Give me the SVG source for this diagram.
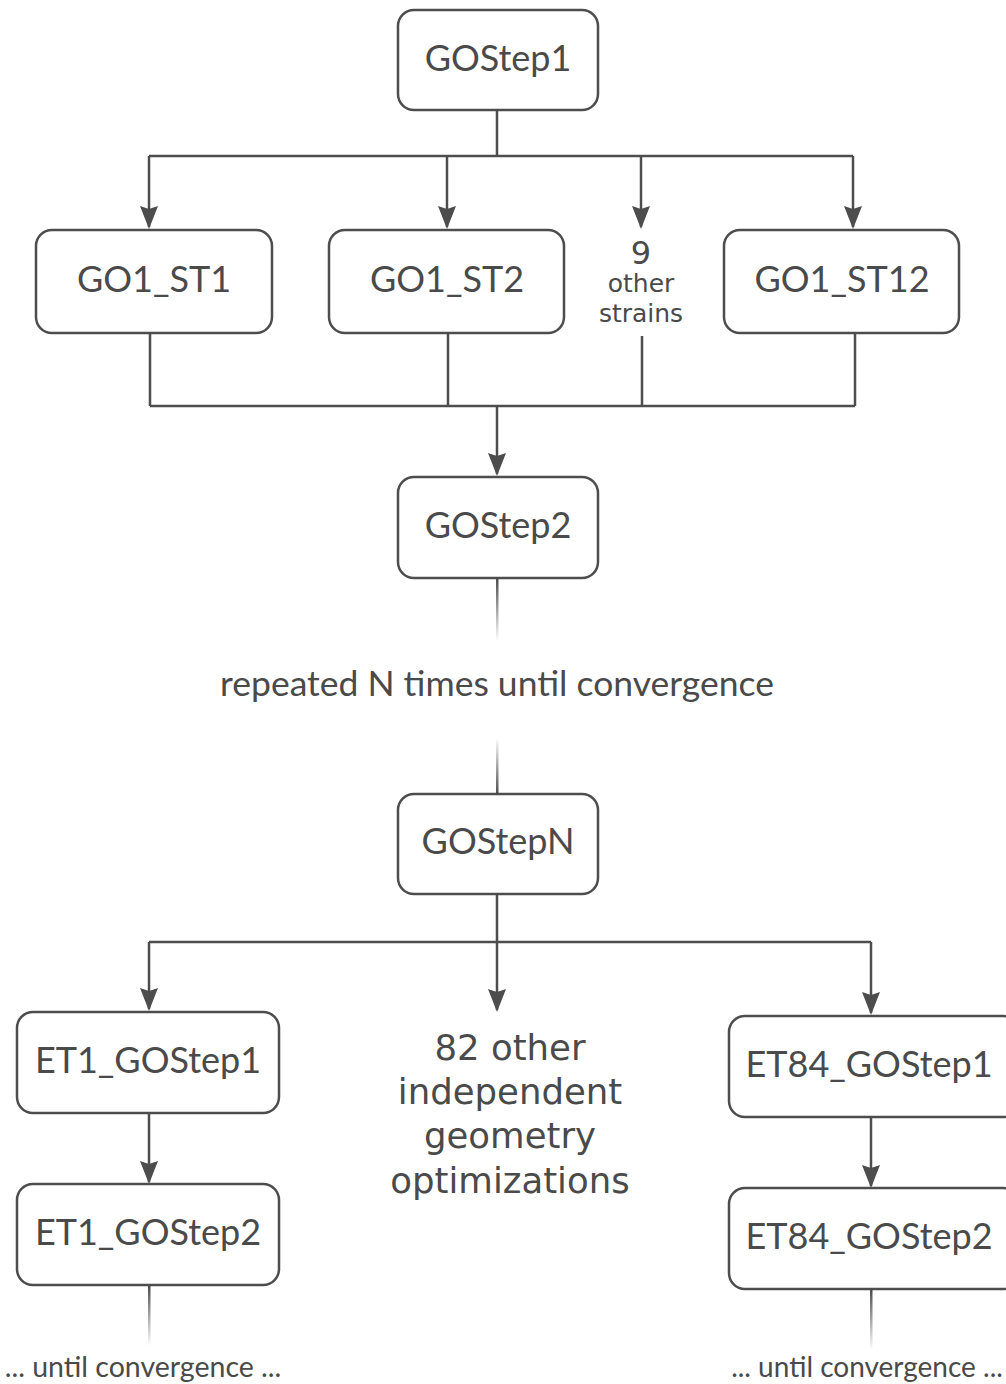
<svg xmlns="http://www.w3.org/2000/svg" width="1006" height="1384" viewBox="0 0 1006 1384">
<style>
.box{fill:#fff;stroke:#4d4d4d;stroke-width:2.5}
.lbl{font-family:Lato,"Liberation Sans",sans-serif;font-size:36px;fill:#4a4a4a;text-anchor:middle}
.dj{font-family:"DejaVu Sans",sans-serif;fill:#4a4a4a;text-anchor:middle}
.ln{fill:none;stroke:#4d4d4d;stroke-width:2.5}
.arr{fill:none;stroke:#4d4d4d;stroke-width:2.5;marker-end:url(#ah)}
.fade{fill:url(#fd)}
.fadeu{fill:url(#fu)}
.note{font-family:Lato,"Liberation Sans",sans-serif;fill:#4a4a4a;text-anchor:middle}
</style>
<defs>
<marker id="ah" markerUnits="userSpaceOnUse" markerWidth="23" markerHeight="18" refX="21" refY="9" orient="auto" viewBox="0 0 23 18">
<path d="M0,0 L3,9 L0,18 L23,9 Z" fill="#4d4d4d"/>
</marker>
<linearGradient id="fd" x1="0" y1="0" x2="0" y2="1"><stop offset="0" stop-color="#4d4d4d"/><stop offset="1" stop-color="#4d4d4d" stop-opacity="0"/></linearGradient>
<linearGradient id="fu" x1="0" y1="1" x2="0" y2="0"><stop offset="0" stop-color="#4d4d4d"/><stop offset="1" stop-color="#4d4d4d" stop-opacity="0"/></linearGradient>
</defs>
<rect width="1006" height="1384" fill="#fff"/>
<g id="connectors">
<path class="ln" d="M497,110 V156 M149,156 H853"/>
<path class="arr" d="M149,156 V227"/>
<path class="arr" d="M447,156 V227"/>
<path class="arr" d="M641,156 V227"/>
<path class="arr" d="M853,156 V227"/>
<path class="ln" d="M150,333 V406 M448,333 V406 M642,336 V406 M855,333 V406 M150,406 H855"/>
<path class="arr" d="M497,406 V474"/>
<rect class="fade" x="496" y="579" width="2.5" height="62"/>
<rect class="fadeu" x="496" y="738" width="2.5" height="56"/>
<path class="ln" d="M497,894 V942 M149,942 H871"/>
<path class="arr" d="M149,942 V1009"/>
<path class="arr" d="M497,942 V1010"/>
<path class="arr" d="M871,942 V1013"/>
<path class="arr" d="M149,1113 V1182"/>
<path class="arr" d="M871,1117 V1186"/>
<rect class="fade" x="148" y="1286" width="2.5" height="60"/>
<rect class="fade" x="870" y="1290" width="2.5" height="60"/>
</g>
<g id="GOStep1"><rect class="box" x="398" y="10" width="200" height="100" rx="16"/><text class="lbl" x="498" y="71">GOStep1</text></g>
<g id="GO1_ST1"><rect class="box" x="36" y="230" width="236" height="103" rx="16"/><text class="lbl" x="154" y="292">GO1_ST1</text></g>
<g id="GO1_ST2"><rect class="box" x="329" y="230" width="235" height="103" rx="16"/><text class="lbl" x="447" y="292">GO1_ST2</text></g>
<g id="others9"><text class="dj" x="641" y="264" font-size="32">9</text><text class="dj" x="641" y="292" font-size="25">other</text><text class="dj" x="641" y="322" font-size="25">strains</text></g>
<g id="GO1_ST12"><rect class="box" x="724" y="230" width="235" height="103" rx="16"/><text class="lbl" x="842" y="292">GO1_ST12</text></g>
<g id="GOStep2"><rect class="box" x="398" y="477" width="200" height="101" rx="16"/><text class="lbl" x="498" y="538">GOStep2</text></g>
<g id="repeat"><text class="note" x="497" y="696" font-size="35.5">repeated N times until convergence</text></g>
<g id="GOStepN"><rect class="box" x="398" y="794" width="200" height="100" rx="16"/><text class="lbl" x="498" y="854">GOStepN</text></g>
<g id="ET1_GOStep1"><rect class="box" x="17" y="1012" width="262" height="101" rx="16"/><text class="lbl" x="148" y="1073">ET1_GOStep1</text></g>
<g id="others82"><text class="dj" x="510" y="1060" font-size="35.5">82 other</text><text class="dj" x="510" y="1104" font-size="35.5">independent</text><text class="dj" x="510" y="1148" font-size="35.5">geometry</text><text class="dj" x="510" y="1193" font-size="35.5">optimizations</text></g>
<g id="ET84_GOStep1"><rect class="box" x="729" y="1016" width="290" height="101" rx="16"/><text class="lbl" x="869" y="1077">ET84_GOStep1</text></g>
<g id="ET1_GOStep2"><rect class="box" x="17" y="1184" width="262" height="101" rx="16"/><text class="lbl" x="148" y="1245">ET1_GOStep2</text></g>
<g id="ET84_GOStep2"><rect class="box" x="729" y="1188" width="290" height="101" rx="16"/><text class="lbl" x="869" y="1249">ET84_GOStep2</text></g>
<g id="conv"><text class="note" x="143" y="1377" font-size="28.5">... until convergence ...</text><text class="note" x="867" y="1377" font-size="28">... until convergence ...</text></g>
</svg>
